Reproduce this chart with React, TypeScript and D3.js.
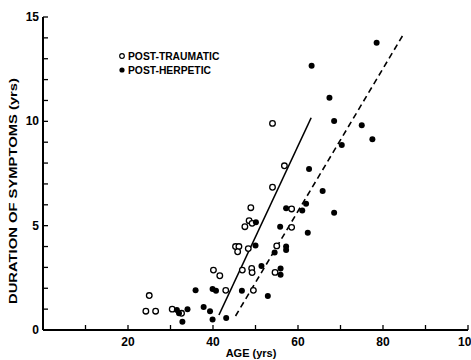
import * as d3 from "d3";

// [age, duration] pairs
const postTraumatic: [number, number][] = [
  [24.2, 0.9], [25, 1.65], [26.5, 0.9], [30.4, 1.0], [32.6, 0.8],
  [40.1, 2.87], [41.6, 2.6], [43, 1.9], [45.3, 4.0], [46.1, 4.0], [45.8, 3.75],
  [48.3, 3.9], [46.9, 2.87], [49.1, 2.95], [49.2, 2.75], [49.5, 1.9],
  [47.5, 4.95], [48.5, 5.24], [49.2, 5.11], [48.9, 5.86], [54, 6.84],
  [56.8, 7.87], [54, 9.9], [58.5, 5.8], [58.5, 4.92], [55, 4.03], [54.6, 2.76],
];

const postHerpetic: [number, number][] = [
  [31.5, 0.96], [32, 0.8], [32.8, 0.4], [34, 1.0], [35.9, 1.9], [37.8, 1.1],
  [39.3, 0.9], [39.9, 0.5], [39.9, 1.96], [40.7, 1.88], [43.1, 0.57],
  [46.8, 1.88], [50, 4.05], [50.1, 5.16], [51.4, 3.07], [52.9, 1.63],
  [54.5, 3.72], [55.9, 2.95], [55.9, 2.65], [55.8, 4.95], [57.2, 4.0],
  [57.2, 3.83], [57.2, 5.83], [61, 5.73], [61.9, 6.05], [62.3, 4.66],
  [62.6, 7.71], [65.8, 6.66], [68.5, 5.62], [63.2, 12.66], [67.4, 11.13],
  [68.5, 10.01], [70.3, 8.86], [75, 9.81], [77.5, 9.14], [78.5, 13.77],
];

// regression lines (endpoints)
const traumaticLine: [number, number][] = [[41.4, 0.72], [63.1, 10.17]];
const herpeticLine: [number, number][] = [[45.3, 0.67], [84.8, 14.17]];

const xTicks = [10, 20, 30, 40, 50, 60, 70, 80, 90, 100];
const xLabels = [20, 40, 60, 80, 100];
const yLabels = [0, 5, 10, 15];

const legendItems = ["POST-TRAUMATIC", "POST-HERPETIC"];

export default function App() {
  const width = 471;
  const height = 360;
  const x = d3.scaleLinear().domain([0, 100]).range([43, 468]);
  const y = d3.scaleLinear().domain([0, 15]).range([330, 17]);
  const line = d3.line<[number, number]>().x(d => x(d[0])).y(d => y(d[1]));
  const yTicks = d3.range(1, 16);
  const font = "'Liberation Sans', Arial, sans-serif";

  return (
    <svg width={width} height={height}
      style={{ position: "absolute", left: 0, top: 0, background: "#fff" }}
      fontFamily={font} fontWeight="bold">
      {/* axes */}
      <line x1={x(0)} x2={x(100)} y1={y(0)} y2={y(0)} stroke="#000" strokeWidth={2} />
      <line x1={x(0)} x2={x(0)} y1={y(0)} y2={y(15)} stroke="#000" strokeWidth={2} />
      {xTicks.map(t => (
        <line key={"xt" + t} x1={x(t)} x2={x(t)} y1={y(0)} y2={y(0) - 5} stroke="#000" strokeWidth={1.3} />
      ))}
      {yTicks.map(t => (
        <line key={"yt" + t} x1={x(0)} x2={x(0) + 5} y1={y(t)} y2={y(t)} stroke="#000" strokeWidth={1.3} />
      ))}
      {xLabels.map(t => (
        <text key={"xl" + t} x={x(t)} y={y(0) + 16} fontSize={12} textAnchor="middle">{t}</text>
      ))}
      {yLabels.map(t => (
        <text key={"yl" + t} x={x(0) - 4} y={y(t) + 4} fontSize={12} textAnchor="end">{t}</text>
      ))}
      <text x={251} y={357} fontSize={11} textAnchor="middle">AGE (yrs)</text>
      <text transform={`translate(17,${191}) rotate(-90)`} fontSize={11.5} textAnchor="middle"
        textLength={226} lengthAdjust="spacingAndGlyphs">
        DURATION OF SYMPTOMS (yrs)
      </text>

      {/* regression lines */}
      <path d={line(traumaticLine) ?? ""} fill="none" stroke="#000" strokeWidth={1.6} />
      <path d={line(herpeticLine) ?? ""} fill="none" stroke="#000" strokeWidth={1.6} strokeDasharray="6 4" />

      {/* points */}
      {postTraumatic.map((d, i) => (
        <circle key={"pt" + i} cx={x(d[0])} cy={y(d[1])} r={2.8} fill="#fff" stroke="#000" strokeWidth={1.3} />
      ))}
      {postHerpetic.map((d, i) => (
        <circle key={"ph" + i} cx={x(d[0])} cy={y(d[1])} r={3} fill="#000" />
      ))}

      {/* legend */}
      {legendItems.map((name, i) => (
        <g key={name} transform={`translate(122,${56 + i * 14})`}>
          {i === 0
            ? <circle r={2.3} fill="#fff" stroke="#000" strokeWidth={1.2} />
            : <circle r={2.6} fill="#000" />}
          <text x={6} y={3.5} fontSize={10.3}>{name}</text>
        </g>
      ))}
    </svg>
  );
}
